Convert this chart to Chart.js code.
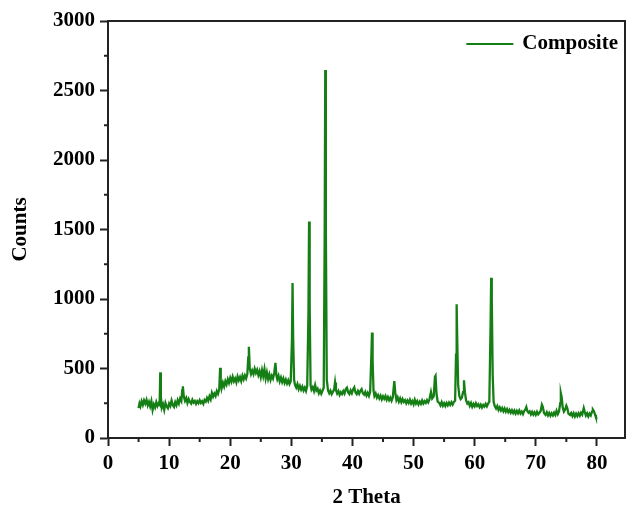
<!DOCTYPE html>
<html>
<head>
<meta charset="utf-8">
<script src="https://cdn.jsdelivr.net/npm/chart.js@4/dist/chart.umd.min.js"></script>
<style>
  html, body { margin: 0; padding: 0; background: #fff; }
  #wrap { width: 626px; height: 508px; position: relative; }
</style>
</head>
<body>
<div id="wrap"><canvas id="xrd"></canvas></div>
<script>
// 2 theta positions (degrees)
const twoTheta = [
  5.0,5.15,5.3,5.5,5.7,5.9,6.1,6.3,6.5,6.7,6.9,7.1,7.3,7.5,7.7,7.9,8.1,8.3,8.45,8.55,8.65,8.8,
  9.0,9.2,9.4,9.6,9.8,10.0,10.2,10.4,10.6,10.8,11.0,11.2,11.4,11.6,11.8,12.0,12.15,12.25,12.4,
  12.6,12.8,13.0,13.2,13.4,13.6,13.8,14.0,14.2,14.4,14.6,14.8,15.0,15.2,15.4,15.6,15.8,16.0,16.2,16.4,16.6,16.8,17.0,17.2,17.4,17.6,17.8,18.0,18.2,18.35,18.45,18.6,
  18.8,19.0,19.2,19.4,19.6,19.8,20.0,20.2,20.4,20.6,20.8,21.0,21.2,21.4,21.6,21.8,22.0,22.2,22.4,22.6,22.8,22.95,23.05,23.2,
  23.4,23.6,23.8,24.0,24.2,24.4,24.6,24.8,25.0,25.2,25.4,25.6,25.8,26.0,26.2,26.4,26.6,26.8,27.0,27.2,27.4,27.55,
  27.7,27.9,28.1,28.3,28.5,28.7,28.9,29.1,29.3,29.5,29.7,29.9,30.1,30.2,30.3,30.45,
  30.6,30.8,31.0,31.2,31.4,31.6,31.8,32.0,32.2,32.4,32.6,32.8,32.9,33.0,33.15,
  33.3,33.5,33.7,33.9,34.1,34.3,34.5,34.7,34.9,35.1,35.3,35.45,35.55,35.65,35.8,
  36.0,36.2,36.4,36.6,36.8,37.0,37.15,37.3,
  37.5,37.7,37.9,38.1,38.3,38.5,38.7,38.9,39.1,39.3,39.5,39.7,39.9,40.1,40.3,40.5,40.7,40.9,41.1,41.3,41.5,41.7,41.9,42.1,42.3,42.5,42.7,42.9,
  43.1,43.2,43.3,43.45,
  43.6,43.8,44.0,44.2,44.4,44.6,44.8,45.0,45.2,45.4,45.6,45.8,46.0,46.2,46.4,46.6,46.85,47.0,
  47.2,47.4,47.6,47.8,48.0,48.2,48.4,48.6,48.8,49.0,49.2,49.4,49.6,49.8,50.0,50.2,50.4,50.6,50.8,51.0,51.2,51.4,51.6,51.8,52.0,52.2,52.4,52.6,
  52.85,53.05,53.3,53.5,53.6,53.75,
  53.95,54.2,54.4,54.6,54.8,55.0,55.2,55.4,55.6,55.8,56.0,56.2,56.4,56.6,56.8,
  56.95,57.05,57.15,57.3,57.5,57.7,57.9,58.1,58.25,58.4,58.6,
  58.8,59.0,59.2,59.4,59.6,59.8,60.0,60.2,60.4,60.6,60.8,61.0,61.2,61.4,61.6,61.8,62.0,62.2,62.4,
  62.6,62.7,62.8,62.95,63.1,
  63.3,63.5,63.7,63.9,64.1,64.3,64.5,64.7,64.9,65.1,65.3,65.5,65.7,65.9,66.1,66.3,66.5,66.7,66.9,67.1,67.3,67.5,67.7,67.9,68.1,68.3,
  68.45,68.6,
  68.8,69.0,69.2,69.4,69.6,69.8,70.0,70.2,70.4,70.6,70.8,
  71.0,71.15,71.35,
  71.6,71.8,72.0,72.2,72.4,72.6,72.8,73.0,73.2,73.4,73.6,73.8,
  74.0,74.1,74.25,74.4,74.6,74.8,75.0,75.15,75.35,
  75.6,75.8,76.0,76.2,76.4,76.6,76.8,77.0,77.2,77.4,77.6,
  77.85,78.0,78.2,78.4,78.6,78.8,79.0,79.2,79.35,79.5,79.7,79.85,80.0
];

// intensity (counts) at each position above
const counts = [
  215,248,228,265,238,270,248,275,235,260,228,265,202,242,220,258,230,250,240,472,300,218,
  242,202,252,226,214,248,230,270,238,224,258,236,272,248,284,266,345,372,300,
  268,288,252,280,260,248,275,255,266,245,265,250,272,252,264,246,274,262,288,268,300,278,325,298,320,302,338,318,348,505,420,360,
  398,370,408,385,422,396,432,405,440,408,428,400,442,415,438,410,448,422,450,428,460,580,657,500,
  460,485,460,498,468,490,452,480,438,488,445,495,428,472,425,458,418,448,428,468,540,450,
  422,448,408,435,402,428,396,420,392,415,388,408,700,1115,720,420,
  382,362,388,352,375,348,370,342,362,338,375,900,1558,950,380,
  348,365,338,380,342,355,322,342,318,340,362,1400,2648,1500,420,
  342,322,340,315,332,348,400,345,
  320,338,310,330,316,338,320,352,362,328,316,342,322,350,365,328,316,338,318,340,352,322,312,332,305,325,302,332,
  600,758,560,340,
  302,320,290,308,285,305,278,300,282,302,275,295,272,290,268,292,410,330,
  272,292,262,285,258,280,260,272,250,270,252,275,248,265,242,275,248,265,242,262,245,270,248,265,252,272,256,278,
  330,285,300,440,448,320,
  262,252,235,258,232,250,230,252,235,255,238,258,240,260,268,
  600,962,700,380,300,280,290,330,415,330,270,
  248,258,232,252,225,245,228,250,230,242,222,240,220,238,226,245,228,248,262,
  800,1152,1000,450,260,
  228,212,230,202,220,198,215,192,212,190,208,186,202,182,200,180,198,176,195,178,198,176,190,172,194,205,
  222,195,
  182,192,170,188,168,185,166,188,170,182,194,
  240,225,180,
  166,185,162,180,160,178,162,182,166,196,172,192,
  250,322,290,220,190,205,232,215,175,
  166,180,158,178,155,175,158,178,160,182,168,
  215,190,162,178,155,175,162,190,205,195,168,148,138
];

const xTicks = [0, 10, 20, 30, 40, 50, 60, 70, 80];
const xMinorTicks = [5, 15, 25, 35, 45, 55, 65, 75];
const yTicks = [0, 500, 1000, 1500, 2000, 2500, 3000];
const yMinorTicks = [250, 750, 1250, 1750, 2250, 2750];

const lineGreen = '#157f15';
const axisColor = '#222';
const serifBold = { family: '"Liberation Serif", "Times New Roman", serif', weight: 'bold', size: 21 };

// frame on top/right, minor ticks and the in-plot legend
const framePlugin = {
  id: 'frame',
  afterDraw(chart) {
    const { ctx, chartArea: a, scales } = chart;
    ctx.save();
    ctx.strokeStyle = axisColor;
    ctx.lineWidth = 2;
    ctx.beginPath();
    ctx.moveTo(a.left, a.top);
    ctx.lineTo(a.right, a.top);
    ctx.lineTo(a.right, a.bottom);
    ctx.stroke();

    ctx.beginPath();
    xMinorTicks.forEach(v => {
      const px = scales.x.getPixelForValue(v);
      ctx.moveTo(px, a.bottom);
      ctx.lineTo(px, a.bottom + 4);
    });
    yMinorTicks.forEach(v => {
      const py = scales.y.getPixelForValue(v);
      ctx.moveTo(a.left, py);
      ctx.lineTo(a.left - 4, py);
    });
    ctx.stroke();

    // legend
    const ds = chart.data.datasets[0];
    ctx.font = 'bold 21px "Liberation Serif", "Times New Roman", serif';
    ctx.fillStyle = '#000';
    ctx.textBaseline = 'middle';
    ctx.textAlign = 'right';
    const ty = a.top + 23;
    const tx = a.right - 7;
    const tw = ctx.measureText(ds.label).width;
    ctx.fillText(ds.label, tx, ty);
    ctx.strokeStyle = ds.borderColor;
    ctx.lineWidth = 2;
    ctx.beginPath();
    ctx.moveTo(tx - tw - 56, ty);
    ctx.lineTo(tx - tw - 9, ty);
    ctx.stroke();
    ctx.restore();
  }
};

new Chart(document.getElementById('xrd'), {
  type: 'line',
  data: {
    datasets: [{
      label: 'Composite',
      data: twoTheta.map((t, i) => ({ x: t, y: counts[i] })),
      borderColor: lineGreen,
      borderWidth: 2.3,
      pointRadius: 0,
      tension: 0,
      fill: false
    }]
  },
  options: {
    responsive: true,
    maintainAspectRatio: false,
    animation: false,
    layout: { padding: { top: 21, right: 1, left: 0, bottom: 0 } },
    plugins: {
      legend: { display: false },
      tooltip: { enabled: false }
    },
    scales: {
      x: {
        type: 'linear',
        min: 0,
        max: 84.6,
        afterBuildTicks: s => { s.ticks = xTicks.map(v => ({ value: v })); },
        afterFit: s => { s.height = 70; },
        ticks: { font: serifBold, color: '#000', padding: 5, maxRotation: 0, autoSkip: false, callback: v => String(v) },
        grid: { drawOnChartArea: false, tickLength: 8, tickWidth: 2, tickColor: axisColor },
        border: { color: axisColor, width: 2 },
        title: {
          display: true,
          text: '2 Theta',
          color: '#000',
          font: { ...serifBold, lineHeight: 1 },
          padding: { top: 0, bottom: 0 }
        }
      },
      y: {
        min: 0,
        max: 3000,
        afterBuildTicks: s => { s.ticks = yTicks.map(v => ({ value: v })); },
        afterFit: s => { s.width = 108; },
        ticks: { font: serifBold, color: '#000', padding: 5, autoSkip: false, callback: v => String(v) },
        grid: { drawOnChartArea: false, tickLength: 8, tickWidth: 2, tickColor: axisColor },
        border: { color: axisColor, width: 2 },
        title: {
          display: true,
          text: 'Counts',
          color: '#000',
          font: { ...serifBold, lineHeight: 1 },
          padding: { top: 10, bottom: 0 }
        }
      }
    }
  },
  plugins: [framePlugin]
});
</script>
</body>
</html>
